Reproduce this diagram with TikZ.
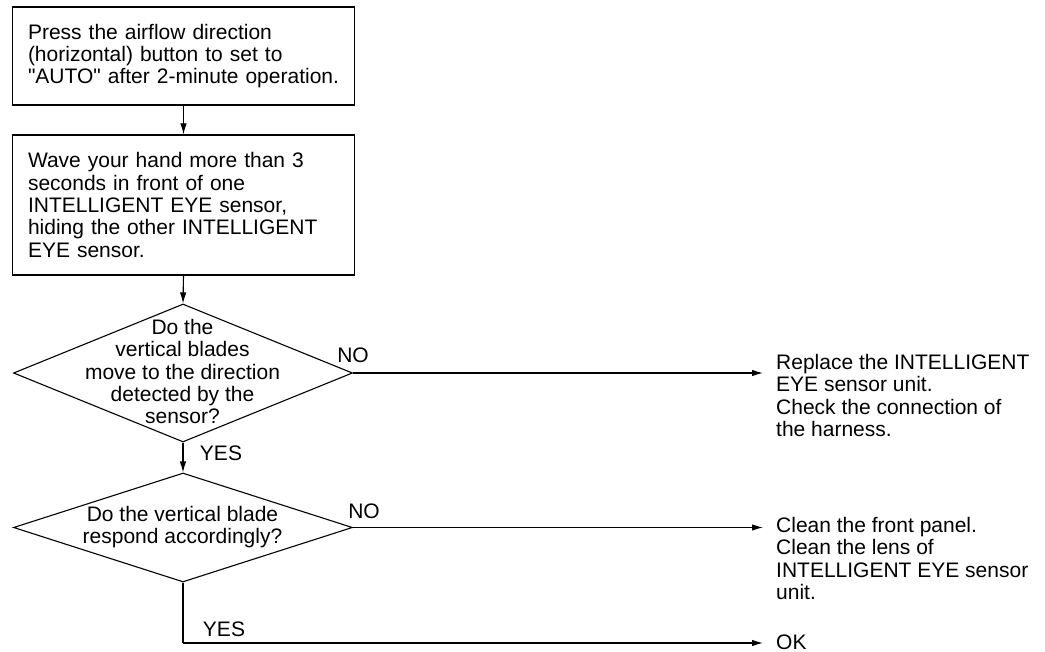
\documentclass[tikz,border=0pt]{standalone}
\usepackage{fontspec}
\setmainfont{Liberation Sans}[Ligatures=TeXOff]
\usetikzlibrary{arrows.meta,shapes.geometric}
\begin{document}
\begin{tikzpicture}[x=1pt,y=-1pt,
  every node/.style={font=\fontsize{21}{22.4}\selectfont},
  stepbox/.style={draw,line width=1.3pt,minimum width=342pt,text width=311pt,inner xsep=15.5pt,align=left},
  decision/.style={draw,diamond,line width=1.1pt,inner sep=0pt},
  flow/.style={line width=1.1pt,-{Latex[length=11pt,width=6.5pt]}},
  plain/.style={line width=1.1pt},
  lbl/.style={inner sep=0pt},
  result/.style={inner sep=0pt,align=left,anchor=north west}]
\useasboundingbox (0,0) rectangle (1045,652);
\node[stepbox,minimum height=98pt] (b1) at (183.5,56)
  {Press the airflow direction\\(horizontal) button to set to\\"AUTO" after 2-minute operation.};
\node[stepbox,minimum height=140pt] (b2) at (183.5,205)
  {Wave your hand more than 3\\seconds in front of one\\INTELLIGENT EYE sensor,\\hiding the other INTELLIGENT\\EYE sensor.};
\node[decision,minimum width=339pt,minimum height=138pt] (d1) at (183,373) {};
\node[lbl,align=center] (t1) at (182.5,371.5)
  {Do the\\vertical blades\\move to the direction\\detected by the\\sensor?};
\node[decision,minimum width=339pt,minimum height=109pt] (d2) at (183,527.5) {};
\node[lbl,align=center] (t2) at (182.5,527)
  {Do the vertical blade\\respond accordingly?};
\coordinate (r1) at (763,373);
\coordinate (r2) at (763,527.5);
\coordinate (r3) at (763,643);
\coordinate (c3) at (183,643);
\node[result] (x1) at (776,354) {Replace the INTELLIGENT\\EYE sensor unit.\\Check the connection of\\the harness.};
\node[result] (x2) at (776,517) {Clean the front panel.\\Clean the lens of\\INTELLIGENT EYE sensor\\unit.};
\node[lbl,anchor=west] (x3) at (776,642) {OK};
\node[lbl] (n1) at (353,355) {NO};
\node[lbl] (n2) at (364,511) {NO};
\node[lbl] (y1) at (221,453) {YES};
\node[lbl] (y2) at (224,629) {YES};
\draw[flow] (b1.south) -- (b2.north);
\draw[flow] (b2.south) -- (d1.north);
\draw[flow] (d1.east) -- (r1);
\draw[flow] (d1.south) -- (d2.north);
\draw[flow] (d2.east) -- (r2);
\draw[plain] (d2.south) -- (c3);
\draw[flow] (c3) -- (r3);
\end{tikzpicture}
\end{document}
